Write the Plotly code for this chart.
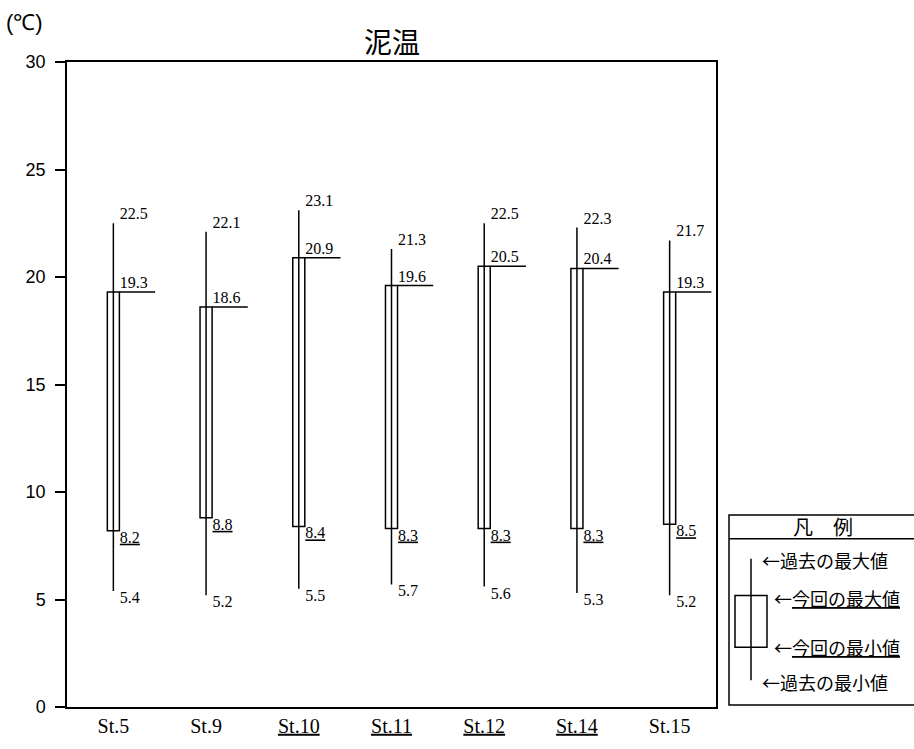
import plotly.graph_objects as go

stations = ["St.5", "St.9", "St.10", "St.11", "St.12", "St.14", "St.15"]
underlined = [False, False, True, True, True, True, False]
past_max = [22.5, 22.1, 23.1, 21.3, 22.5, 22.3, 21.7]
cur_max = [19.3, 18.6, 20.9, 19.6, 20.5, 20.4, 19.3]
cur_min = [8.2, 8.8, 8.4, 8.3, 8.3, 8.3, 8.5]
past_min = [5.4, 5.2, 5.5, 5.7, 5.6, 5.3, 5.2]
y_ticks = [0, 5, 10, 15, 20, 25, 30]
title = "泥温"
unit = "(℃)"
legend_title = "凡　例"
legend_items = ["←過去の最大値", "←<u>今回の最大値</u>", "←<u>今回の最小値</u>", "←過去の最小値"]

W, H = 914, 749
L, R, T, B = 67, 716, 62, 710
pw, ph = R - L, B - T


def px(x):
    return (x - L) / pw


def py(y):
    return (B - y) / ph


xs = list(range(len(stations)))
ticktext = [f"<u>{s}</u>" if u else s for s, u in zip(stations, underlined)]

serif = "Liberation Serif"
black = "#000000"
box_w = 0.13

fig = go.Figure()

fig.add_trace(go.Bar(
    x=xs, y=[a - b for a, b in zip(cur_max, cur_min)], base=cur_min,
    width=box_w, marker=dict(color="rgba(255,255,255,0)", line=dict(color=black, width=1.5)),
    hoverinfo="skip", showlegend=False))

wx, wy = [], []
for i in xs:
    wx += [i, i, None]
    wy += [past_min[i], past_max[i], None]
fig.add_trace(go.Scatter(x=wx, y=wy, mode="lines", line=dict(color=black, width=1.5),
                         hoverinfo="skip", showlegend=False))

hx, hy = [], []
for i in xs:
    hx += [i + box_w / 2, i + 0.45, None]
    hy += [cur_max[i], cur_max[i], None]
fig.add_trace(go.Scatter(x=hx, y=hy, mode="lines", line=dict(color=black, width=1.5),
                         hoverinfo="skip", showlegend=False))

lab_font = dict(family=serif, size=16, color=black)
off = box_w / 2 + 0.005
fig.add_trace(go.Scatter(x=[i + off for i in xs], y=past_max, mode="text",
                         text=[f"{v:.1f}" for v in past_max], textposition="top right",
                         textfont=lab_font, hoverinfo="skip", showlegend=False))
fig.add_trace(go.Scatter(x=[i + off for i in xs], y=cur_max, mode="text",
                         text=[f"{v:.1f}" for v in cur_max], textposition="top right",
                         textfont=lab_font, hoverinfo="skip", showlegend=False))
fig.add_trace(go.Scatter(x=[i + off for i in xs], y=cur_min, mode="text",
                         text=[f"<u>{v:.1f}</u>" for v in cur_min], textposition="bottom right",
                         textfont=lab_font, hoverinfo="skip", showlegend=False))
fig.add_trace(go.Scatter(x=[i + off for i in xs], y=past_min, mode="text",
                         text=[f"{v:.1f}" for v in past_min], textposition="bottom right",
                         textfont=lab_font, hoverinfo="skip", showlegend=False))

shapes = []
annotations = []

lb_l, lb_r, lb_t, lb_b = 729, 930, 517, 708
shapes.append(dict(type="rect", xref="paper", yref="paper", x0=px(lb_l), x1=px(lb_r),
                   y0=py(lb_b), y1=py(lb_t), line=dict(color=black, width=1.5),
                   fillcolor="white", layer="above"))
shapes.append(dict(type="line", xref="paper", yref="paper", x0=px(lb_l), x1=px(lb_r),
                   y0=py(541), y1=py(541), line=dict(color=black, width=1.5)))
shapes.append(dict(type="line", xref="paper", yref="paper", x0=px(751), x1=px(751),
                   y0=py(683), y1=py(561), line=dict(color=black, width=1.5)))
shapes.append(dict(type="rect", xref="paper", yref="paper", x0=px(735), x1=px(767),
                   y0=py(650), y1=py(598), line=dict(color=black, width=1.5)))

cjk = "Noto Sans CJK JP"
annotations.append(dict(text=legend_title, xref="paper", yref="paper", x=px(823), y=py(529),
                        xanchor="center", yanchor="middle", showarrow=False,
                        font=dict(family=cjk, size=20, color=black)))
item_pos = [(760, 562), (772, 600), (772, 650), (760, 685)]
for txt, (lx, ly) in zip(legend_items, item_pos):
    annotations.append(dict(text=txt, xref="paper", yref="paper", x=px(lx), y=py(ly),
                            xanchor="left", yanchor="middle", showarrow=False,
                            font=dict(family=cjk, size=18, color=black)))

annotations.append(dict(text=title, xref="paper", yref="paper", x=0.5, y=py(41),
                        xanchor="center", yanchor="middle", showarrow=False,
                        font=dict(family=cjk, size=28, color=black)))
annotations.append(dict(text=unit, xref="paper", yref="paper", x=px(4), y=py(22),
                        xanchor="left", yanchor="middle", showarrow=False,
                        font=dict(family="Liberation Sans", size=22, color=black)))

fig.update_layout(
    width=W, height=H, autosize=False,
    margin=dict(l=L, r=W - R, t=T, b=H - B, pad=0),
    paper_bgcolor="white", plot_bgcolor="white",
    shapes=shapes, annotations=annotations, showlegend=False,
    xaxis=dict(range=[-0.5, len(stations) - 0.5], tickvals=xs, ticktext=ticktext,
               showgrid=False, zeroline=False, showline=True, linecolor=black, linewidth=1.5,
               mirror=True, ticks="", tickfont=dict(family=serif, size=20, color=black)),
    yaxis=dict(range=[0, 30], tickvals=y_ticks, showgrid=False, zeroline=False,
               showline=True, linecolor=black, linewidth=1.5, mirror=True,
               ticks="outside", ticklen=10, tickcolor=black, tickwidth=1.5,
               ticklabelstandoff=6,
               tickfont=dict(family="Liberation Sans", size=18, color=black)),
)

fig.write_html(
    "out.html",
    config={"displayModeBar": False},
    post_script="document.body.style.margin='0';document.body.style.overflow='hidden';",
)
